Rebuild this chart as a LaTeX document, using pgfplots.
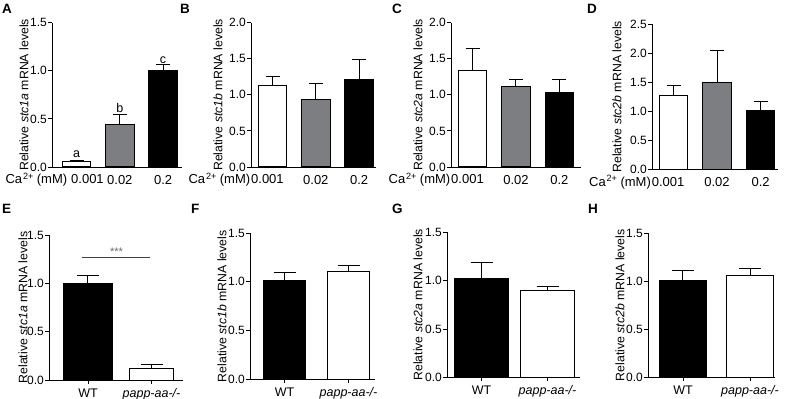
\documentclass[border=0pt]{standalone}
\usepackage{fontspec}
\setmainfont{Liberation Sans}
\usepackage{pgfplots}
\pgfplotsset{compat=1.18}
\definecolor{bargrey}{RGB}{125,126,129}
\pgfplotsset{
  prism/.style={
    scale only axis, anchor=south west, clip=false,
    axis lines=left, axis line style={-, line width=0.9bp, black},
    tick align=outside, major tick length=4bp,
    tick style={line width=0.9bp, black},
    ymin=0,
    /pgf/number format/assume math mode=true,
    yticklabel style={font=\fontsize{12bp}{14bp}\selectfont, inner sep=1bp,
      /pgf/number format/fixed, /pgf/number format/fixed zerofill, /pgf/number format/precision=1},
    ylabel style={font=\fontsize{12.3bp}{14bp}\selectfont, anchor=center},
  },
  toprow/.style={prism, xtick={0,1,2}, xticklabels={,0.02,0.2}, xtick style={draw=none}, bar width=0.66,
    xticklabel style={font=\fontsize{13bp}{15bp}\selectfont, yshift=-1bp},
    error bars/error mark options={rotate=90, line width=1bp, mark size=7bp, black}},
  botrow/.style={prism, xtick={0,1}, xticklabels={WT,\textit{papp-aa-/-}}, ytick={0,0.5,1,1.5}, ymax=1.5,
    xticklabel style={font=\fontsize{12.5bp}{15bp}\selectfont, yshift=-1bp},
    error bars/error mark options={rotate=90, line width=1bp, mark size=11bp, black}},
  bbar/.style={ybar, bar shift=0pt, draw=black, line width=1bp,
    error bars/y dir=plus, error bars/y explicit,
    error bars/error bar style={line width=1bp, black}},
  wbar/.style={bbar, fill=white},
  gbar/.style={bbar, fill=bargrey},
  kbar/.style={bbar, fill=black},
}
\newcommand{\calab}[2]{\node[anchor=base east, font=\fontsize{13bp}{15bp}\selectfont] at ([yshift=-17bp]axis cs:#1,0) {Ca\hspace{0.8bp}\textsuperscript{2+}\hspace{3bp}(mM)#20.001};}
\begin{document}
\begin{tikzpicture}
\path[use as bounding box] (0bp,0bp) rectangle (785bp,399bp);
% panel letters
\foreach \l/\x/\y in {A/2/385,B/180/385,C/392/385,D/587/385,E/2/185,F/191/185,G/392/185,H/588/185}
  \node[anchor=base west, inner sep=0pt, font=\bfseries\fontsize{13.5bp}{15bp}\selectfont] at (\x bp,\y bp) {\l};

% A
\begin{axis}[toprow, at={(52bp,232bp)}, width=130bp, height=144.3bp, xmin=-0.566, xmax=2.436,
  ymax=1.5, ytick={0,0.5,1,1.5},
  ylabel={Relative \textit{stc1a} mRNA levels}, ylabel style={at={([xshift=-28bp]axis description cs:0,0.5)}}]
\addplot[wbar] coordinates {(0,0.055) +- (0,0.01)};
\addplot[gbar] coordinates {(1,0.437) +- (0,0.113)};
\addplot[kbar] coordinates {(2,1.008) +- (0,0.06)};
\node[anchor=base, font=\fontsize{12.5bp}{14bp}\selectfont] at (axis cs:0,0.094) {a};
\node[anchor=base, font=\fontsize{12.5bp}{14bp}\selectfont] at (axis cs:1,0.57) {b};
\node[anchor=base, font=\fontsize{12.5bp}{14bp}\selectfont] at (axis cs:2,1.08) {c};
\calab{0.71}{\hspace{4bp}}
\end{axis}

% B
\begin{axis}[toprow, at={(251bp,232bp)}, width=125bp, height=144.3bp, xmin=-0.497, xmax=2.39,
  ymax=2, ytick={0,0.5,1,1.5,2},
  ylabel={Relative \textit{stc1b} mRNA levels}, ylabel style={at={([xshift=-33bp]axis description cs:0,0.5)}}]
\addplot[wbar] coordinates {(0,1.136) +- (0,0.124)};
\addplot[gbar] coordinates {(1,0.94) +- (0,0.22)};
\addplot[kbar] coordinates {(2,1.215) +- (0,0.275)};
\calab{0.34}{\hspace{1bp}}
\end{axis}

% C
\begin{axis}[toprow, at={(451bp,232bp)}, width=130bp, height=144.3bp, xmin=-0.497, xmax=2.5,
  ymax=2, ytick={0,0.5,1,1.5,2},
  ylabel={Relative \textit{stc2a} mRNA levels}, ylabel style={at={([xshift=-33bp]axis description cs:0,0.5)}}]
\addplot[wbar] coordinates {(0,1.34) +- (0,0.30)};
\addplot[gbar] coordinates {(1,1.12) +- (0,0.09)};
\addplot[kbar] coordinates {(2,1.03) +- (0,0.18)};
\calab{0.34}{\hspace{1bp}}
\end{axis}

% D
\begin{axis}[toprow, at={(652bp,229.7bp)}, width=126bp, height=145bp, xmin=-0.494, xmax=2.40,
  ymax=2.5, ytick={0,0.5,1,1.5,2,2.5},
  ylabel={Relative \textit{stc2b} mRNA levels}, ylabel style={at={([xshift=-35bp]axis description cs:0,0.5)}}]
\addplot[wbar] coordinates {(0,1.28) +- (0,0.16)};
\addplot[gbar] coordinates {(1,1.50) +- (0,0.54)};
\addplot[kbar] coordinates {(2,1.02) +- (0,0.145)};
\calab{0.33}{\hspace{1bp}}
\end{axis}

% E
\begin{axis}[botrow, at={(49bp,19bp)}, width=134bp, height=145bp, xmin=-0.614, xmax=1.496,
  ylabel={Relative \textit{stc1a} mRNA levels}, ylabel style={at={([xshift=-26bp]axis description cs:0,0.5)}}]
\addplot[kbar, bar width=0.78] coordinates {(0,1.0) +- (0,0.086)};
\addplot[wbar, bar width=0.68] coordinates {(1,0.12) +- (0,0.04)};
\draw[line width=0.9bp, black!75] (axis cs:-0.09,1.272) -- (axis cs:0.98,1.272);
\node[anchor=base, font=\fontsize{11bp}{13bp}\selectfont, black!60] at (axis cs:0.45,1.283) {***};
\end{axis}

% F
\begin{axis}[botrow, at={(250bp,20bp)}, width=125bp, height=145.7bp, xmin=-0.539, xmax=1.414, bar width=0.67,
  ylabel={Relative \textit{stc1b} mRNA levels}, ylabel style={at={([xshift=-28bp]axis description cs:0,0.5)}}]
\addplot[kbar] coordinates {(0,1.01) +- (0,0.09)};
\addplot[wbar] coordinates {(1,1.11) +- (0,0.057)};
\end{axis}

% G
\begin{axis}[botrow, at={(447bp,21.7bp)}, width=133bp, height=145bp, xmin=-0.523, xmax=1.492, bar width=0.82,
  ylabel={Relative \textit{stc2a} mRNA levels}, ylabel style={at={([xshift=-29bp]axis description cs:0,0.5)}}]
\addplot[kbar] coordinates {(0,1.017) +- (0,0.168)};
\addplot[wbar] coordinates {(1,0.903) +- (0,0.034)};
\end{axis}

% H
\begin{axis}[botrow, at={(648bp,21.7bp)}, width=127bp, height=144bp, xmin=-0.522, xmax=1.373, bar width=0.69,
  ylabel={Relative \textit{stc2b} mRNA levels}, ylabel style={at={([xshift=-28bp]axis description cs:0,0.5)}}]
\addplot[kbar] coordinates {(0,1.013) +- (0,0.097)};
\addplot[wbar] coordinates {(1,1.065) +- (0,0.07)};
\end{axis}
\end{tikzpicture}
\end{document}
